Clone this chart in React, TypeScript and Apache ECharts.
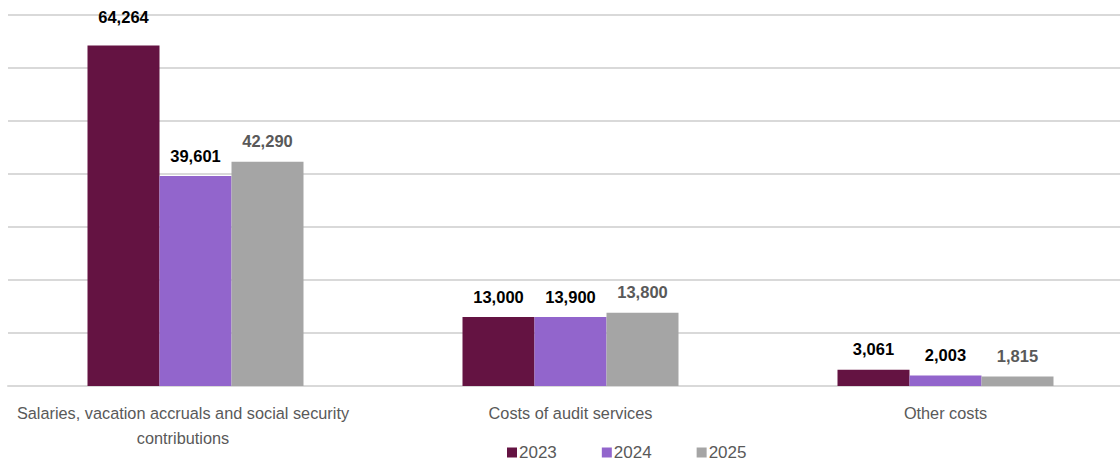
import React, { useEffect, useRef } from "react";
import * as echarts from "echarts";

const categories = [
  "Salaries, vacation accruals and social security\ncontributions",
  "Costs of audit services",
  "Other costs",
];
const seriesNames = ["2023", "2024", "2025"];
const values2023 = [64264, 13000, 3061];
const values2024 = [39601, 13000, 2003];
const values2025 = [42290, 13800, 1815];
const labels2023 = ["64,264", "13,000", "3,061"];
const labels2024 = ["39,601", "13,900", "2,003"];
const labels2025 = ["42,290", "13,800", "1,815"];
const colors = ["#641342", "#9265CC", "#A5A5A5"];
const labelColors = ["#000000", "#000000", "#595959"];

const FONT = "'Liberation Sans', Arial, sans-serif";

export default function App() {
  const ref = useRef<HTMLDivElement>(null);
  useEffect(() => {
    document.body.style.margin = "0";
    const chart = echarts.init(ref.current!, null, { renderer: "svg" });
    const allValues = [values2023, values2024, values2025];
    const allLabels = [labels2023, labels2024, labels2025];
    chart.setOption({
      animation: false,
      textStyle: { fontFamily: FONT },
      grid: {
        left: 8,
        right: -13,
        top: 15,
        bottom: 79,
        containLabel: false,
        outerBoundsMode: "none",
      },
      legend: {
        bottom: -1,
        left: 502,
        itemWidth: 10,
        itemHeight: 10,
        itemGap: 45,
        icon: "rect",
        textStyle: { fontFamily: FONT, fontSize: 17, color: "#595959", padding: [0, 0, 0, -3] },
        data: seriesNames,
      },
      xAxis: {
        type: "category",
        data: categories.map((c, i) =>
          i === 0 ? { value: c, textStyle: { padding: [0, 25, 0, 0] } } : c
        ),
        axisLine: { lineStyle: { color: "#D9D9D9", width: 2 } },
        axisTick: { show: false },
        axisLabel: {
          fontFamily: FONT,
          fontSize: 16.3,
          color: "#595959",
          lineHeight: 25,
          margin: 14,
          interval: 0,
        },
      },
      yAxis: {
        type: "value",
        min: 0,
        max: 70000,
        interval: 10000,
        axisLabel: { show: false },
        axisLine: { show: false },
        axisTick: { show: false },
        splitLine: { lineStyle: { color: "#D9D9D9", width: 2 } },
      },
      series: seriesNames.map((name, si) => ({
        name,
        type: "bar",
        barWidth: 72,
        barGap: "0%",
        itemStyle: { color: colors[si] },
        label: {
          show: true,
          position: "top",
          distance: 12,
          fontFamily: FONT,
          fontSize: 16.5,
          fontWeight: "bold",
          color: labelColors[si],
          formatter: (p: any) => allLabels[si][p.dataIndex],
        },
        data: allValues[si].map((v, di) =>
          si === 0 && di === 0 ? { value: v, label: { distance: 20 } } : v
        ),
      })),
    });
    return () => chart.dispose();
  }, []);
  return <div ref={ref} style={{ width: 1120, height: 465 }} />;
}
